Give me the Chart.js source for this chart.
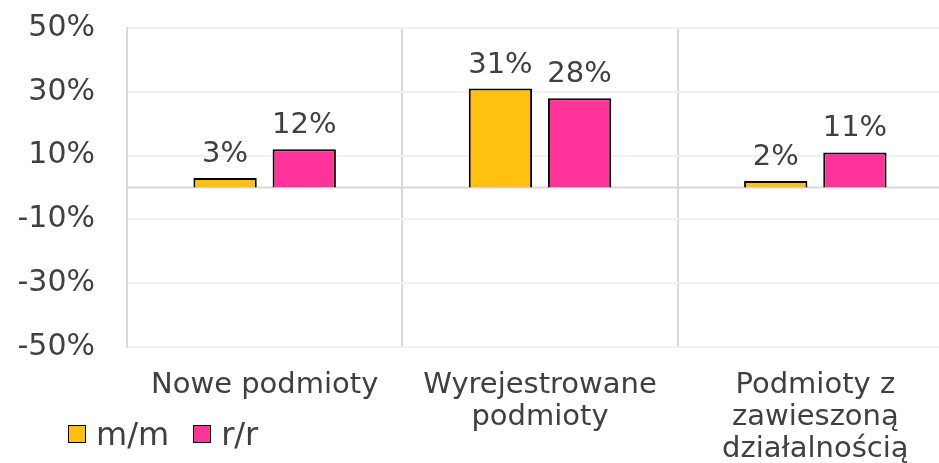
<!DOCTYPE html>
<html>
<head>
<meta charset="utf-8">
<script src="https://cdn.jsdelivr.net/npm/chart.js@4.4.1/dist/chart.umd.min.js"></script>
<style>
  html, body { margin: 0; padding: 0; overflow: hidden; background: #fff; }
  #wrap { position: relative; width: 953px; height: 463px; }
  #legend { position: absolute; left: 68px; top: 415px; display: flex; font-family: "DejaVu Sans", sans-serif; font-size: 32px; color: #404040; }
  .item { display: flex; align-items: center; margin-right: 24px; }
  .box { width: 16px; height: 16px; border: 1.5px solid #000; margin-right: 10px; }
</style>
</head>
<body>
<div id="wrap">
  <canvas id="chart" width="953" height="463"></canvas>
  <div id="legend"></div>
</div>
<script>
const categories = ['Nowe podmioty', ['Wyrejestrowane', 'podmioty'], ['Podmioty z', 'zawieszoną', 'działalnością']];
const seriesNames = ['m/m', 'r/r'];
const mmValues = [3, 31, 2];
const rrValues = [12, 28, 11];
const colors = ['#FFC010', '#FF3399'];

const font = '"DejaVu Sans", sans-serif';
const textColor = '#404040';

// etykiety nad słupkami
const barLabels = {
    id: 'barLabels',
    afterDatasetsDraw(chart) {
        const ctx = chart.ctx;
        ctx.save();
        ctx.font = '29px ' + font;
        ctx.fillStyle = textColor;
        ctx.textAlign = 'center';
        ctx.textBaseline = 'alphabetic';
        chart.data.datasets.forEach((ds, i) => {
            chart.getDatasetMeta(i).data.forEach((bar, j) => {
                ctx.fillText(ds.data[j] + '%', bar.x, bar.y - 16);
            });
        });
        ctx.restore();
    }
};

// linia zerowa
const zeroLine = {
    id: 'zeroLine',
    beforeDatasetsDraw(chart) {
        const y = chart.scales.y.getPixelForValue(0);
        const area = chart.chartArea;
        const ctx = chart.ctx;
        ctx.save();
        ctx.strokeStyle = '#d9d9d9';
        ctx.lineWidth = 2;
        ctx.beginPath();
        ctx.moveTo(area.left, y);
        ctx.lineTo(area.right, y);
        ctx.stroke();
        ctx.restore();
    }
};

const chart = new Chart(document.getElementById('chart'), {
    type: 'bar',
    data: {
        labels: categories,
        datasets: [
            { label: seriesNames[0], data: mmValues, backgroundColor: colors[0], borderColor: '#000', borderWidth: 2 },
            { label: seriesNames[1], data: rrValues, backgroundColor: colors[1], borderColor: '#000', borderWidth: 2 }
        ]
    },
    options: {
        responsive: false,
        animation: false,
        categoryPercentage: 0.575,
        barPercentage: 0.8,
        layout: { padding: { top: 28, left: 0, right: 0, bottom: 0 } },
        plugins: { legend: { display: false }, tooltip: { enabled: false } },
        scales: {
            x: {
                grid: { offset: true, color: '#d9d9d9', lineWidth: 2, drawTicks: false },
                border: { display: false },
                ticks: { font: { family: font, size: 29, lineHeight: 1.1 }, color: textColor, padding: 23, maxRotation: 0 },
                afterFit: (s) => { s.height = 116; }
            },
            y: {
                min: -50,
                max: 50,
                grid: { color: '#f0f0f0', lineWidth: 2, drawTicks: false },
                border: { color: '#d9d9d9', width: 2 },
                ticks: {
                    stepSize: 20,
                    padding: 32,
                    font: { family: font, size: 30 },
                    color: textColor,
                    callback: (v) => v + '%'
                },
                afterFit: (s) => { s.width = 127; s.paddingTop = 0; s.paddingBottom = 0; }
            }
        }
    },
    plugins: [zeroLine, barLabels]
});

const legend = document.getElementById('legend');
seriesNames.forEach((name, i) => {
    const item = document.createElement('div');
    item.className = 'item';
    item.innerHTML = '<span class="box" style="background:' + colors[i] + '"></span><span>' + name + '</span>';
    legend.appendChild(item);
});
</script>
</body>
</html>
